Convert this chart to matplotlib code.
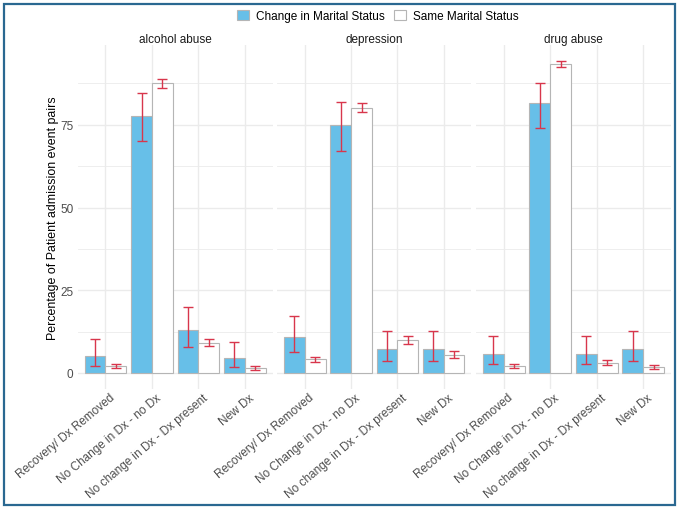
import numpy as np
import matplotlib.pyplot as plt
from matplotlib.patches import Patch, Rectangle

plt.rcParams['font.family'] = ['Liberation Sans', 'DejaVu Sans']

conditions = ['alcohol abuse', 'depression', 'drug abuse']
outcomes = ['Recovery/ Dx Removed', 'No Change in Dx - no Dx',
            'No change in Dx - Dx present', 'New Dx']
groups = ['Change in Marital Status', 'Same Marital Status']

# percentages per condition, one value per outcome
change_pct = {
    'alcohol abuse': [5.2, 77.7, 13.0, 4.4],
    'depression': [11.0, 74.9, 7.25, 7.25],
    'drug abuse': [5.8, 81.5, 5.8, 7.3],
}
change_lo = {
    'alcohol abuse': [2.2, 70.0, 7.9, 1.7],
    'depression': [6.2, 67.0, 3.5, 3.5],
    'drug abuse': [2.7, 73.9, 2.7, 3.5],
}
change_hi = {
    'alcohol abuse': [10.3, 84.5, 19.8, 9.3],
    'depression': [17.2, 81.9, 12.8, 12.8],
    'drug abuse': [11.2, 87.5, 11.2, 12.8],
}
same_pct = {
    'alcohol abuse': [2.1, 87.5, 9.1, 1.4],
    'depression': [4.1, 80.2, 10.0, 5.5],
    'drug abuse': [2.0, 93.4, 3.1, 1.7],
}
same_lo = {
    'alcohol abuse': [1.6, 86.1, 8.1, 0.8],
    'depression': [3.4, 78.8, 8.8, 4.6],
    'drug abuse': [1.4, 92.5, 2.5, 1.1],
}
same_hi = {
    'alcohol abuse': [2.8, 88.7, 10.4, 2.0],
    'depression': [4.9, 81.7, 11.3, 6.5],
    'drug abuse': [2.7, 94.4, 3.8, 2.3],
}

blue = '#67bfe8'
edge = '#b5b5b5'
err_col = '#d8364c'
grid_col = '#ebebeb'
txt_col = '#4d4d4d'

W, H = 680, 510
fig = plt.figure(figsize=(6.8, 5.1), dpi=100)

# outer frame
fig.patches.append(Rectangle((3.5 / W, 4.5 / H), 671 / W, 501 / H, transform=fig.transFigure,
                             fill=False, edgecolor='#2a6891', linewidth=1.6))

panels_x = [(77.6, 272.8), (277.1, 471.4), (476.0, 671.0)]
top_px, bot_px = 46.0, 389.6
x = np.arange(len(outcomes))
bw = 0.45

axes = []
for i, cond in enumerate(conditions):
    x0, x1 = panels_x[i]
    ax = fig.add_axes([x0 / W, 1 - bot_px / H, (x1 - x0) / W, (bot_px - top_px) / H])
    axes.append(ax)
    cv = np.array(change_pct[cond])
    sv = np.array(same_pct[cond])
    ax.bar(x - bw / 2, cv, bw, color=blue, edgecolor=edge, linewidth=0.8, zorder=2)
    ax.bar(x + bw / 2, sv, bw, color='white', edgecolor=edge, linewidth=0.8, zorder=2)
    ax.errorbar(x - bw / 2, cv, yerr=[cv - np.array(change_lo[cond]), np.array(change_hi[cond]) - cv],
                fmt='none', ecolor=err_col, elinewidth=1.0, capsize=3.3, capthick=1.0, zorder=3)
    ax.errorbar(x + bw / 2, sv, yerr=[sv - np.array(same_lo[cond]), np.array(same_hi[cond]) - sv],
                fmt='none', ecolor=err_col, elinewidth=1.0, capsize=3.3, capthick=1.0, zorder=3)

    ax.set_xlim(-0.6, 3.6)
    ax.set_ylim(-4.72, 99.1)
    ax.set_yticks([0, 25, 50, 75])
    ax.set_yticks([12.5, 37.5, 62.5, 87.5], minor=True)
    ax.set_xticks(x + 0.08)
    ax.set_xticklabels(outcomes, rotation=40, ha='right', va='top', rotation_mode='anchor',
                       fontsize=7.3, color=txt_col)
    ax.grid(True, which='major', axis='y', color=grid_col, linewidth=1.0, zorder=0)
    ax.grid(True, which='minor', axis='y', color=grid_col, linewidth=0.6, zorder=0)
    for xv in x:
        ax.axvline(xv, color=grid_col, linewidth=1.0, zorder=0)
    ax.tick_params(length=0, pad=3, labelsize=8.5, labelcolor=txt_col)
    ax.tick_params(axis='x', pad=2)
    ax.tick_params(axis='y', which='minor', length=0)
    for s in ax.spines.values():
        s.set_visible(False)
    ax.set_title(cond, fontsize=8.5, color='#1a1a1a', pad=2.5)
    if i > 0:
        ax.set_yticklabels([])

axes[0].set_ylabel('Percentage of Patient admission event pairs', fontsize=8.9, color='black', labelpad=1)

handles = [Patch(facecolor=blue, edgecolor=edge, linewidth=0.8),
           Patch(facecolor='white', edgecolor=edge, linewidth=0.8)]
fig.legend(handles, groups, loc='center', bbox_to_anchor=(378 / W, 1 - 17 / H), ncol=2,
           frameon=False, fontsize=8.5, handlelength=1.0, handleheight=1.0,
           handletextpad=0.6, columnspacing=0.8)

fig.savefig('out.png', dpi=100)
